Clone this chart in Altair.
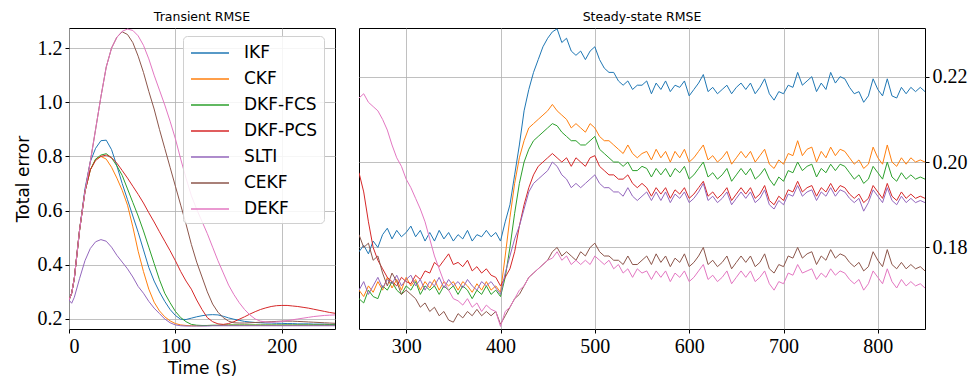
import altair as alt
import pandas as pd

METHODS = ["IKF", "CKF", "DKF-FCS", "DKF-PCS", "SLTI", "CEKF", "DEKF"]
COLORS = ["#1f77b4", "#ff7f0e", "#2ca02c", "#d62728", "#9467bd", "#8c564b", "#e377c2"]

# ---------------- Transient (0..250 s) ----------------
T_TR = [0, 2.5] + list(range(5, 251, 5))

TR_IKF = [0.270, 0.295, 0.350, 0.530, 0.680, 0.780, 0.830, 0.858, 0.860, 0.825, 0.765,
          0.700, 0.640, 0.580, 0.520, 0.455, 0.390, 0.340, 0.300, 0.265, 0.235,
          0.213, 0.199, 0.198, 0.203, 0.208, 0.212, 0.215, 0.216, 0.215, 0.210,
          0.204, 0.199, 0.195, 0.191, 0.189, 0.187, 0.186, 0.185, 0.185, 0.184,
          0.184, 0.183, 0.183, 0.182, 0.182, 0.182, 0.181, 0.181, 0.181, 0.180, 0.180]
TR_CKF = [0.270, 0.295, 0.350, 0.530, 0.670, 0.750, 0.790, 0.800, 0.790, 0.760, 0.720,
          0.675, 0.620, 0.540, 0.450, 0.375, 0.310, 0.262, 0.230, 0.208, 0.193,
          0.183, 0.178, 0.176, 0.175, 0.175, 0.175, 0.176, 0.176, 0.176, 0.176,
          0.177, 0.177, 0.177, 0.177, 0.177, 0.177, 0.177, 0.177, 0.177, 0.177,
          0.177, 0.177, 0.177, 0.177, 0.177, 0.177, 0.177, 0.177, 0.177, 0.177, 0.177]
TR_FCS = [0.270, 0.295, 0.350, 0.530, 0.670, 0.750, 0.790, 0.805, 0.810, 0.795, 0.765,
          0.730, 0.680, 0.630, 0.580, 0.525, 0.465, 0.405, 0.345, 0.295, 0.260,
          0.228, 0.205, 0.190, 0.180, 0.177, 0.176, 0.176, 0.177, 0.177, 0.178,
          0.178, 0.178, 0.178, 0.178, 0.178, 0.178, 0.178, 0.178, 0.178, 0.178,
          0.178, 0.178, 0.178, 0.178, 0.178, 0.178, 0.178, 0.178, 0.178, 0.178, 0.178]
TR_PCS = [0.270, 0.295, 0.350, 0.530, 0.670, 0.750, 0.785, 0.800, 0.805, 0.795, 0.775,
          0.748, 0.720, 0.690, 0.660, 0.628, 0.592, 0.558, 0.522, 0.487, 0.452,
          0.415, 0.375, 0.340, 0.310, 0.270, 0.235, 0.205, 0.190, 0.182, 0.180,
          0.183, 0.190, 0.199, 0.208, 0.218, 0.227, 0.235, 0.241, 0.246, 0.249,
          0.250, 0.250, 0.248, 0.246, 0.243, 0.240, 0.236, 0.232, 0.228, 0.224, 0.221]
TR_SLTI = [0.270, 0.258, 0.280, 0.350, 0.415, 0.460, 0.485, 0.493, 0.487, 0.465, 0.435,
           0.410, 0.385, 0.355, 0.320, 0.295, 0.265, 0.240, 0.220, 0.200, 0.186,
           0.178, 0.175, 0.174, 0.174, 0.174, 0.174, 0.174, 0.175, 0.175, 0.175,
           0.175, 0.175, 0.175, 0.175, 0.175, 0.175, 0.175, 0.175, 0.175, 0.175,
           0.175, 0.175, 0.175, 0.175, 0.175, 0.175, 0.175, 0.175, 0.175, 0.175, 0.175]
TR_CEKF = [0.270, 0.295, 0.350, 0.530, 0.670, 0.780, 0.900, 1.020, 1.130, 1.200, 1.240,
           1.260, 1.250, 1.220, 1.170, 1.110, 1.040, 0.975, 0.900, 0.830, 0.760,
           0.690, 0.620, 0.550, 0.475, 0.410, 0.355, 0.300, 0.255, 0.225, 0.205,
           0.192, 0.186, 0.185, 0.185, 0.186, 0.187, 0.188, 0.189, 0.190, 0.191,
           0.192, 0.192, 0.192, 0.191, 0.190, 0.189, 0.188, 0.187, 0.186, 0.185, 0.184]
TR_DEKF = [0.270, 0.295, 0.350, 0.530, 0.670, 0.780, 0.900, 1.020, 1.130, 1.200, 1.240,
           1.262, 1.270, 1.265, 1.245, 1.210, 1.160, 1.100, 1.045, 0.990, 0.930,
           0.865, 0.790, 0.720, 0.655, 0.605, 0.560, 0.515, 0.465, 0.415, 0.370,
           0.325, 0.290, 0.260, 0.235, 0.215, 0.200, 0.192, 0.189, 0.188, 0.189,
           0.191, 0.194, 0.197, 0.200, 0.203, 0.206, 0.209, 0.211, 0.213, 0.214, 0.215]

# ---------------- Steady state (250..850 s) ----------------
T_SS = list(range(250, 851, 5))

SS_IKF = [0.1790, 0.1805, 0.1785, 0.1815, 0.1800, 0.1830, 0.1845, 0.1820, 0.1840, 0.1825, 0.1835,
          0.1850, 0.1825, 0.1840, 0.1815, 0.1835, 0.1815, 0.1840, 0.1820, 0.1835, 0.1815,
          0.1830, 0.1820, 0.1840, 0.1815, 0.1830, 0.1825, 0.1840, 0.1825, 0.1835, 0.1815,
          0.1860, 0.1900, 0.1970, 0.2040, 0.2120, 0.2170, 0.2210, 0.2240, 0.2270, 0.2290,
          0.2305, 0.2312, 0.2280, 0.2290, 0.2260, 0.2250, 0.2260, 0.2240, 0.2260, 0.2270,
          0.2240, 0.2220, 0.2210, 0.2210, 0.2190, 0.2180, 0.2190, 0.2170, 0.2180, 0.2180,
          0.2190, 0.2160, 0.2185, 0.2170, 0.2190, 0.2165, 0.2180, 0.2175, 0.2190, 0.2155,
          0.2170, 0.2185, 0.2205, 0.2165, 0.2175, 0.2160, 0.2170, 0.2180, 0.2160, 0.2175,
          0.2185, 0.2170, 0.2185, 0.2160, 0.2175, 0.2195, 0.2160, 0.2145, 0.2165, 0.2160,
          0.2180, 0.2175, 0.2210, 0.2180, 0.2190, 0.2200, 0.2165, 0.2185, 0.2170, 0.2210,
          0.2185, 0.2200, 0.2195, 0.2175, 0.2160, 0.2165, 0.2140, 0.2155, 0.2195, 0.2170,
          0.2155, 0.2195, 0.2155, 0.2150, 0.2175, 0.2160, 0.2175, 0.2165, 0.2175, 0.2165]
SS_CKF = [0.1700, 0.1685, 0.1710, 0.1695, 0.1720, 0.1700, 0.1730, 0.1705, 0.1725, 0.1700, 0.1730,
          0.1710, 0.1725, 0.1700, 0.1720, 0.1705, 0.1725, 0.1700, 0.1720, 0.1710, 0.1720,
          0.1700, 0.1720, 0.1710, 0.1695, 0.1715, 0.1700, 0.1720, 0.1700, 0.1710, 0.1695,
          0.1780, 0.1870, 0.1950, 0.2010, 0.2050, 0.2080, 0.2090, 0.2100, 0.2110, 0.2120,
          0.2135, 0.2120, 0.2110, 0.2100, 0.2080, 0.2090, 0.2080, 0.2070, 0.2090, 0.2080,
          0.2060, 0.2050, 0.2050, 0.2040, 0.2030, 0.2020, 0.2040, 0.2020, 0.2010, 0.2020,
          0.2025, 0.2005, 0.2030, 0.2010, 0.2025, 0.2000, 0.2025, 0.2010, 0.2030, 0.2000,
          0.2010, 0.2025, 0.2040, 0.2005, 0.2015, 0.2000, 0.2010, 0.2025, 0.1995, 0.2010,
          0.2025, 0.2010, 0.2025, 0.2000, 0.2015, 0.2030, 0.1995, 0.1985, 0.2005, 0.1995,
          0.2020, 0.2015, 0.2050, 0.2015, 0.2030, 0.2035, 0.2000, 0.2025, 0.2010, 0.2035,
          0.2015, 0.2030, 0.2025, 0.2010, 0.1995, 0.2005, 0.1985, 0.1995, 0.2035, 0.2010,
          0.1995, 0.2040, 0.2000, 0.1990, 0.2010, 0.1995, 0.2010, 0.2000, 0.2005, 0.2000]
SS_FCS = [0.1680, 0.1670, 0.1700, 0.1685, 0.1680, 0.1710, 0.1700, 0.1720, 0.1700, 0.1690, 0.1710,
          0.1700, 0.1720, 0.1690, 0.1710, 0.1700, 0.1710, 0.1690, 0.1710, 0.1700, 0.1710,
          0.1690, 0.1710, 0.1700, 0.1680, 0.1700, 0.1690, 0.1710, 0.1690, 0.1700, 0.1685,
          0.1730, 0.1800, 0.1880, 0.1950, 0.2000, 0.2030, 0.2050, 0.2060, 0.2070, 0.2080,
          0.2090, 0.2085, 0.2070, 0.2060, 0.2050, 0.2050, 0.2040, 0.2040, 0.2050, 0.2060,
          0.2030, 0.2020, 0.2010, 0.2000, 0.2000, 0.1990, 0.2000, 0.1980, 0.1980, 0.1990,
          0.1985, 0.1965, 0.1985, 0.1970, 0.1985, 0.1965, 0.1985, 0.1975, 0.1990, 0.1960,
          0.1970, 0.1985, 0.2000, 0.1965, 0.1975, 0.1960, 0.1970, 0.1985, 0.1955, 0.1970,
          0.1985, 0.1970, 0.1985, 0.1960, 0.1970, 0.1985, 0.1960, 0.1945, 0.1965, 0.1955,
          0.1980, 0.1975, 0.2000, 0.1980, 0.1990, 0.1995, 0.1965, 0.1985, 0.1975, 0.1995,
          0.1980, 0.1995, 0.1990, 0.1975, 0.1960, 0.1970, 0.1950, 0.1960, 0.1990, 0.1975,
          0.1960, 0.2000, 0.1965, 0.1955, 0.1975, 0.1960, 0.1970, 0.1960, 0.1965, 0.1960]
SS_PCS = [0.1975, 0.1930, 0.1860, 0.1800, 0.1770, 0.1750, 0.1730, 0.1720, 0.1710, 0.1730, 0.1720,
          0.1715, 0.1735, 0.1725, 0.1745, 0.1740, 0.1765, 0.1755, 0.1770, 0.1785, 0.1760,
          0.1765, 0.1755, 0.1770, 0.1745, 0.1755, 0.1740, 0.1750, 0.1735, 0.1730, 0.1710,
          0.1730, 0.1750, 0.1790, 0.1850, 0.1900, 0.1940, 0.1970, 0.1990, 0.2000, 0.2010,
          0.2020, 0.2010, 0.2000, 0.2010, 0.1990, 0.2010, 0.2000, 0.1990, 0.2010, 0.2015,
          0.1990, 0.1980, 0.1970, 0.1970, 0.1960, 0.1960, 0.1970, 0.1950, 0.1940, 0.1950,
          0.1940, 0.1920, 0.1940, 0.1925, 0.1940, 0.1915, 0.1935, 0.1925, 0.1940, 0.1915,
          0.1925, 0.1940, 0.1955, 0.1920, 0.1930, 0.1915, 0.1925, 0.1940, 0.1910, 0.1925,
          0.1940, 0.1925, 0.1940, 0.1915, 0.1925, 0.1945, 0.1910, 0.1900, 0.1920, 0.1910,
          0.1935, 0.1930, 0.1955, 0.1930, 0.1940, 0.1945, 0.1920, 0.1940, 0.1930, 0.1950,
          0.1930, 0.1945, 0.1940, 0.1925, 0.1915, 0.1925, 0.1905, 0.1915, 0.1945, 0.1930,
          0.1915, 0.1950, 0.1920, 0.1910, 0.1930, 0.1915, 0.1925, 0.1915, 0.1920, 0.1915]
SS_SLTI = [0.1700, 0.1720, 0.1690, 0.1710, 0.1730, 0.1705, 0.1725, 0.1715, 0.1735, 0.1710, 0.1725,
           0.1735, 0.1710, 0.1725, 0.1700, 0.1720, 0.1710, 0.1730, 0.1705, 0.1725, 0.1710,
           0.1720, 0.1705, 0.1725, 0.1710, 0.1700, 0.1720, 0.1710, 0.1720, 0.1705, 0.1690,
           0.1740, 0.1780, 0.1820, 0.1850, 0.1890, 0.1930, 0.1950, 0.1960, 0.1970, 0.1980,
           0.2000, 0.1990, 0.1970, 0.1960, 0.1940, 0.1950, 0.1940, 0.1950, 0.1960, 0.1970,
           0.1950, 0.1940, 0.1940, 0.1930, 0.1930, 0.1920, 0.1940, 0.1920, 0.1910, 0.1920,
           0.1930, 0.1910, 0.1930, 0.1910, 0.1930, 0.1905, 0.1925, 0.1915, 0.1930, 0.1905,
           0.1915, 0.1930, 0.1950, 0.1910, 0.1920, 0.1905, 0.1915, 0.1930, 0.1900, 0.1915,
           0.1930, 0.1915, 0.1930, 0.1905, 0.1915, 0.1935, 0.1900, 0.1890, 0.1910, 0.1900,
           0.1925, 0.1920, 0.1945, 0.1920, 0.1930, 0.1935, 0.1910, 0.1930, 0.1920, 0.1940,
           0.1920, 0.1935, 0.1930, 0.1915, 0.1905, 0.1915, 0.1885, 0.1905, 0.1935, 0.1920,
           0.1905, 0.1940, 0.1910, 0.1900, 0.1920, 0.1905, 0.1915, 0.1905, 0.1910, 0.1905]
SS_CEKF = [0.1830, 0.1800, 0.1810, 0.1770, 0.1780, 0.1740, 0.1710, 0.1740, 0.1720, 0.1690, 0.1700,
           0.1690, 0.1680, 0.1660, 0.1670, 0.1650, 0.1660, 0.1640, 0.1650, 0.1630, 0.1625,
           0.1645, 0.1635, 0.1650, 0.1640, 0.1655, 0.1640, 0.1650, 0.1640, 0.1650, 0.1620,
           0.1640, 0.1660, 0.1680, 0.1690, 0.1710, 0.1730, 0.1740, 0.1750, 0.1760, 0.1770,
           0.1790, 0.1800, 0.1780, 0.1790, 0.1780, 0.1770, 0.1790, 0.1780, 0.1800, 0.1810,
           0.1790, 0.1780, 0.1780, 0.1770, 0.1770, 0.1760, 0.1780, 0.1760, 0.1760, 0.1770,
           0.1780, 0.1760, 0.1785, 0.1765, 0.1780, 0.1755, 0.1775, 0.1765, 0.1785, 0.1755,
           0.1765, 0.1780, 0.1800, 0.1760, 0.1770, 0.1755, 0.1765, 0.1780, 0.1750, 0.1765,
           0.1780, 0.1765, 0.1780, 0.1755, 0.1765, 0.1785, 0.1750, 0.1740, 0.1760, 0.1755,
           0.1780, 0.1775, 0.1800, 0.1775, 0.1785, 0.1790, 0.1760, 0.1780, 0.1770, 0.1795,
           0.1775, 0.1785, 0.1780, 0.1765, 0.1755, 0.1765, 0.1745, 0.1755, 0.1790, 0.1770,
           0.1755, 0.1795, 0.1760, 0.1750, 0.1765, 0.1750, 0.1760, 0.1750, 0.1755, 0.1745]
SS_DEKF = [0.2150, 0.2160, 0.2140, 0.2130, 0.2120, 0.2100, 0.2075, 0.2040, 0.2010, 0.1990, 0.1960,
           0.1940, 0.1915, 0.1890, 0.1860, 0.1820, 0.1780, 0.1750, 0.1720, 0.1700, 0.1680,
           0.1675, 0.1665, 0.1680, 0.1660, 0.1670, 0.1650, 0.1665, 0.1655, 0.1650, 0.1615,
           0.1650, 0.1660, 0.1680, 0.1700, 0.1710, 0.1730, 0.1740, 0.1750, 0.1760, 0.1770,
           0.1775, 0.1790, 0.1770, 0.1780, 0.1760, 0.1770, 0.1760, 0.1770, 0.1760, 0.1780,
           0.1770, 0.1760, 0.1770, 0.1750, 0.1760, 0.1740, 0.1750, 0.1730, 0.1750, 0.1740,
           0.1745, 0.1725, 0.1745, 0.1730, 0.1745, 0.1720, 0.1740, 0.1730, 0.1745, 0.1720,
           0.1730, 0.1745, 0.1760, 0.1725, 0.1735, 0.1720, 0.1730, 0.1745, 0.1715, 0.1730,
           0.1745, 0.1730, 0.1745, 0.1720, 0.1730, 0.1745, 0.1715, 0.1700, 0.1720, 0.1715,
           0.1740, 0.1735, 0.1760, 0.1740, 0.1745, 0.1750, 0.1725, 0.1740, 0.1730, 0.1750,
           0.1735, 0.1745, 0.1740, 0.1725, 0.1715, 0.1725, 0.1700, 0.1715, 0.1745, 0.1730,
           0.1715, 0.1750, 0.1720, 0.1705, 0.1725, 0.1710, 0.1720, 0.1710, 0.1715, 0.1705]

TR = [TR_IKF, TR_CKF, TR_FCS, TR_PCS, TR_SLTI, TR_CEKF, TR_DEKF]
SS = [SS_IKF, SS_CKF, SS_FCS, SS_PCS, SS_SLTI, SS_CEKF, SS_DEKF]

rows_tr = []
for m, vals in zip(METHODS, TR):
    for t, v in zip(T_TR, vals):
        rows_tr.append({"t": t, "v": v, "method": m})
rows_ss = []
for m, vals in zip(METHODS, SS):
    for t, v in zip(T_SS, vals):
        rows_ss.append({"t": t, "v": v, "method": m})
df_tr = pd.DataFrame(rows_tr)
df_ss = pd.DataFrame(rows_ss)

color_scale = alt.Scale(domain=METHODS, range=COLORS)
LABEL_FONT = "Liberation Serif, DejaVu Serif, serif"
SANS = "DejaVu Sans"

left = alt.Chart(df_tr).mark_line(strokeWidth=1, clip=True).encode(
    x=alt.X("t:Q", scale=alt.Scale(domain=[0, 250], nice=False, zero=False),
            axis=alt.Axis(values=[0, 100, 200], title="Time (s)", format="d",
                          titlePadding=4)),
    y=alt.Y("v:Q", scale=alt.Scale(domain=[0.163, 1.274], nice=False, zero=False),
            axis=alt.Axis(values=[0.2, 0.4, 0.6, 0.8, 1.0, 1.2], format=".1f",
                          title="Total error", titlePadding=5)),
    color=alt.Color("method:N", scale=color_scale, sort=METHODS,
                    legend=alt.Legend(orient="none", legendX=114, legendY=8,
                                      title=None, symbolType="M-1.9,0H1.9",
                                      symbolSize=400, symbolStrokeWidth=1.5,
                                      symbolOffset=10,
                                      labelFont=SANS, labelFontSize=17,
                                      labelColor="black", labelOffset=23,
                                      rowPadding=7, padding=6,
                                      strokeColor="#d0d0d0", fillColor="rgba(255,255,255,0.85)",
                                      cornerRadius=4)),
).properties(width=266, height=301,
             title=alt.Title("Transient RMSE", fontSize=12.5, font=SANS, color="black",
                             fontWeight="normal", offset=5, anchor="middle"))

right = alt.Chart(df_ss).mark_line(strokeWidth=1, clip=True).encode(
    x=alt.X("t:Q", scale=alt.Scale(domain=[250, 850], nice=False, zero=False),
            axis=alt.Axis(values=[300, 400, 500, 600, 700, 800], title=None, format="d")),
    y=alt.Y("v:Q", scale=alt.Scale(domain=[0.1609, 0.2314], nice=False, zero=False),
            axis=alt.Axis(values=[0.18, 0.20, 0.22], format=".2f", title=None,
                          orient="right")),
    color=alt.Color("method:N", scale=color_scale, sort=METHODS, legend=None),
).properties(width=566, height=301,
             title=alt.Title("Steady-state RMSE", fontSize=12.5, font=SANS, color="black",
                             fontWeight="normal", offset=5, anchor="middle"))

chart = alt.hconcat(left, right, spacing=22).resolve_legend(
    color="independent"
).properties(
    padding={"left": 13, "top": 10, "right": 0, "bottom": 4},
    background="white"
).configure_view(
    stroke="black", strokeWidth=1
).configure_axis(
    labelFont=LABEL_FONT, labelFontSize=20, labelColor="black",
    tickColor="black", tickSize=4, labelPadding=3, domain=False,
    grid=True, gridColor="#b0b0b0", gridWidth=0.8,
    titleFont=SANS, titleFontSize=17, titleFontWeight="normal", titleColor="black"
)

chart.save("out.html", embed_options={"renderer": "svg", "actions": False})
